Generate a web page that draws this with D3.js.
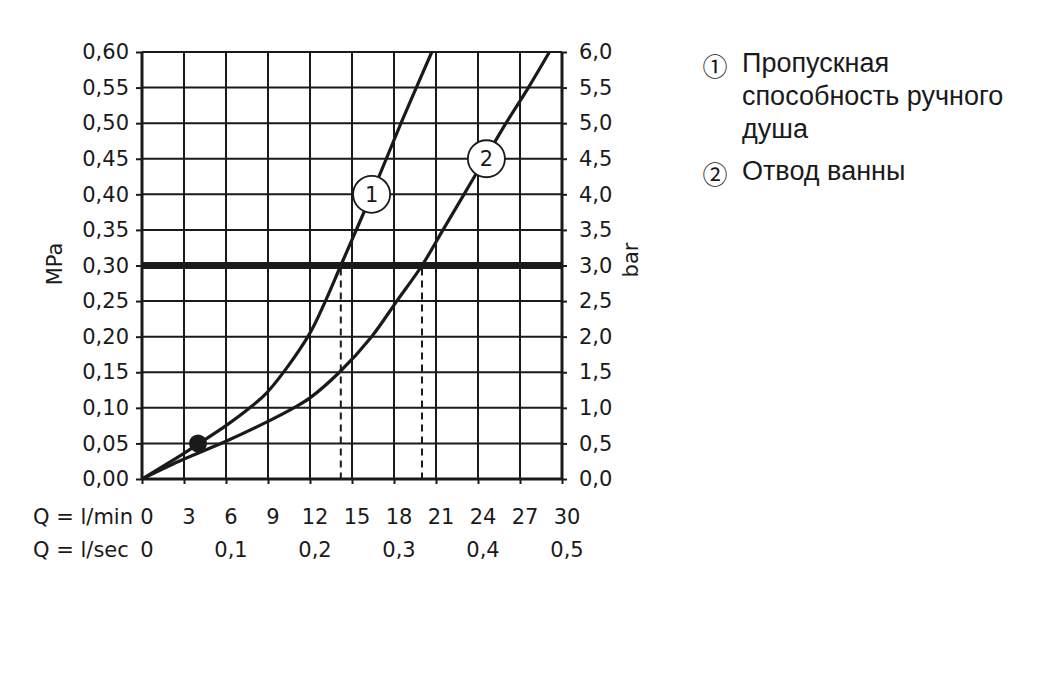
<!DOCTYPE html>
<html><head><meta charset="utf-8">
<script src="https://cdn.jsdelivr.net/npm/d3@7"></script>
<style>body{margin:0;background:#fff}svg{display:block}</style>
</head><body>
<script>
const xTicksMin = [0,3,6,9,12,15,18,21,24,27,30];
const xTicksSec = [0,0.1,0.2,0.3,0.4,0.5];
const yTicksMPa = [0,0.05,0.10,0.15,0.20,0.25,0.30,0.35,0.40,0.45,0.50,0.55,0.60];
const curve1Q   = [0,3,4,6,7.7,9,11.85,13.1,14.2,16.4,18.5,20.7];
const curve1P   = [0,0.036,0.049,0.075,0.10,0.123,0.20,0.25,0.30,0.40,0.50,0.60];
const curve2Q   = [0,3,6,9,10.84,12,14.1,16.4,18.2,20.0,21.5,23.0,24.5,26.0,27.6,29.1];
const curve2P   = [0,0.028,0.053,0.081,0.10,0.114,0.15,0.20,0.25,0.30,0.35,0.40,0.45,0.50,0.55,0.60];
const refPressure = 0.30;
const crossQ = [14.2, 20.0];
const markerPoint = [4, 0.05];
const curveLabels = [{n:"1", q:16.4, p:0.40},{n:"2", q:24.6, p:0.45}];
const legendItems = [{sym:"①", lines:["Пропускная","способность ручного","душа"]},{sym:"②", lines:["Отвод ванны"]}];

const W=1059,H=675;
const svg=d3.select("body").append("svg").attr("width",W).attr("height",H);
const x=d3.scaleLinear().domain([0,30]).range([142,562]);
const y=d3.scaleLinear().domain([0,0.6]).range([479,52]);
const yBar=d3.scaleLinear().domain([0,6]).range([479,52]);
const font="DejaVu Sans";
const ink="#1a1a1a";
const fs=21;

// grid
const g=svg.append("g");
g.selectAll(".vg").data(xTicksMin).join("line")
 .attr("x1",d=>x(d)).attr("x2",d=>x(d)).attr("y1",y(0.6)).attr("y2",y(0))
 .attr("stroke",ink).attr("stroke-width",2);
g.selectAll(".hg").data(yTicksMPa).join("line")
 .attr("x1",x(0)).attr("x2",x(30)).attr("y1",d=>y(d)).attr("y2",d=>y(d))
 .attr("stroke",ink).attr("stroke-width",2);

// axes
const fmt2=d=>d3.format(".2f")(d).replace(".",",");
const fmt1=d=>d3.format(".1f")(d).replace(".",",");
const axL=svg.append("g").attr("transform",`translate(${x(0)},0)`)
 .call(d3.axisLeft(y).tickValues(yTicksMPa).tickFormat(fmt2).tickSize(6).tickPadding(7));
const axR=svg.append("g").attr("transform",`translate(${x(30)},0)`)
 .call(d3.axisRight(yBar).tickValues(yTicksMPa.map(d=>d*10)).tickFormat(fmt1).tickSize(5).tickPadding(12));
const axB=svg.append("g").attr("transform",`translate(0,${y(0)})`)
 .call(d3.axisBottom(x).tickValues(xTicksMin).tickSize(5).tickFormat(""));
[axL,axR,axB].forEach(a=>{
  a.select(".domain").attr("stroke",ink).attr("stroke-width",3);
  a.selectAll(".tick line").attr("stroke",ink).attr("stroke-width",2);
  a.selectAll("text").attr("font-family",font).attr("font-size",fs).attr("fill",ink);
});
axL.select(".domain").attr("d",`M0,${y(0)}V${y(0.6)}`);
axR.select(".domain").attr("d",`M0,${y(0)}V${y(0.6)}`);
axB.select(".domain").attr("d",`M${x(0)},0H${x(30)}`);

// x labels
const tx=svg.append("g").attr("font-family",font).attr("font-size",fs).attr("fill",ink);
tx.append("text").attr("x",33).attr("y",524).text("Q = l/min");
tx.append("text").attr("x",33).attr("y",557).text("Q = l/sec");
tx.selectAll(".m").data(xTicksMin).join("text").attr("x",d=>x(d)+5).attr("y",524).attr("text-anchor","middle").text(d=>d);
tx.selectAll(".s").data(xTicksSec).join("text").attr("x",d=>x(d*60)+5).attr("y",557).attr("text-anchor","middle")
 .text(d=>d===0?"0":String(d).replace(".",","));
// axis titles
svg.append("text").attr("transform",`translate(62,264) rotate(-90)`).attr("text-anchor","middle")
 .attr("font-family",font).attr("font-size",21).attr("fill",ink).text("MPa");
svg.append("text").attr("transform",`translate(638,260) rotate(-90)`).attr("text-anchor","middle")
 .attr("font-family",font).attr("font-size",21).attr("fill",ink).text("bar");

// reference line
svg.append("line").attr("x1",x(0)).attr("x2",x(30)).attr("y1",y(refPressure)).attr("y2",y(refPressure))
 .attr("stroke",ink).attr("stroke-width",7);
// dashed
svg.selectAll(".dash").data(crossQ).join("line")
 .attr("x1",d=>x(d)).attr("x2",d=>x(d)).attr("y1",y(refPressure)+3).attr("y2",y(0))
 .attr("stroke",ink).attr("stroke-width",2).attr("stroke-dasharray","7,5");

// curves
const line=d3.line().x(d=>x(d[0])).y(d=>y(d[1])).curve(d3.curveCatmullRom.alpha(0.5));
svg.append("path").datum(d3.zip(curve1Q,curve1P)).attr("d",line).attr("fill","none").attr("stroke",ink).attr("stroke-width",3.2);
svg.append("path").datum(d3.zip(curve2Q,curve2P)).attr("d",line).attr("fill","none").attr("stroke",ink).attr("stroke-width",3.2);
svg.append("circle").attr("cx",x(markerPoint[0])).attr("cy",y(markerPoint[1])).attr("r",9).attr("fill",ink);

// curve labels
const cl=svg.selectAll(".cl").data(curveLabels).join("g").attr("transform",d=>`translate(${x(d.q)},${y(d.p)})`);
cl.append("circle").attr("r",18.5).attr("fill","#fff").attr("stroke",ink).attr("stroke-width",1.8);
cl.append("text").attr("text-anchor","middle").attr("dy","0.36em").attr("font-family",font).attr("font-size",fs).attr("fill",ink).text(d=>d.n);

// legend
const lg=svg.append("g").attr("font-family","Liberation Sans, Arial").attr("font-size",27).attr("fill",ink);
let ly=72;
legendItems.forEach((it,i)=>{
  lg.append("text").attr("x",715).attr("y",ly-5).attr("dy","0.36em").attr("text-anchor","middle")
    .attr("font-family","Noto Sans CJK SC").attr("font-size",25).text(it.sym);
  it.lines.forEach((t,j)=>{
    lg.append("text").attr("x",742).attr("y",ly+j*33).text(t);
  });
  ly+= (it.lines.length-1)*33 + 42;
});
</script>
</body></html>
